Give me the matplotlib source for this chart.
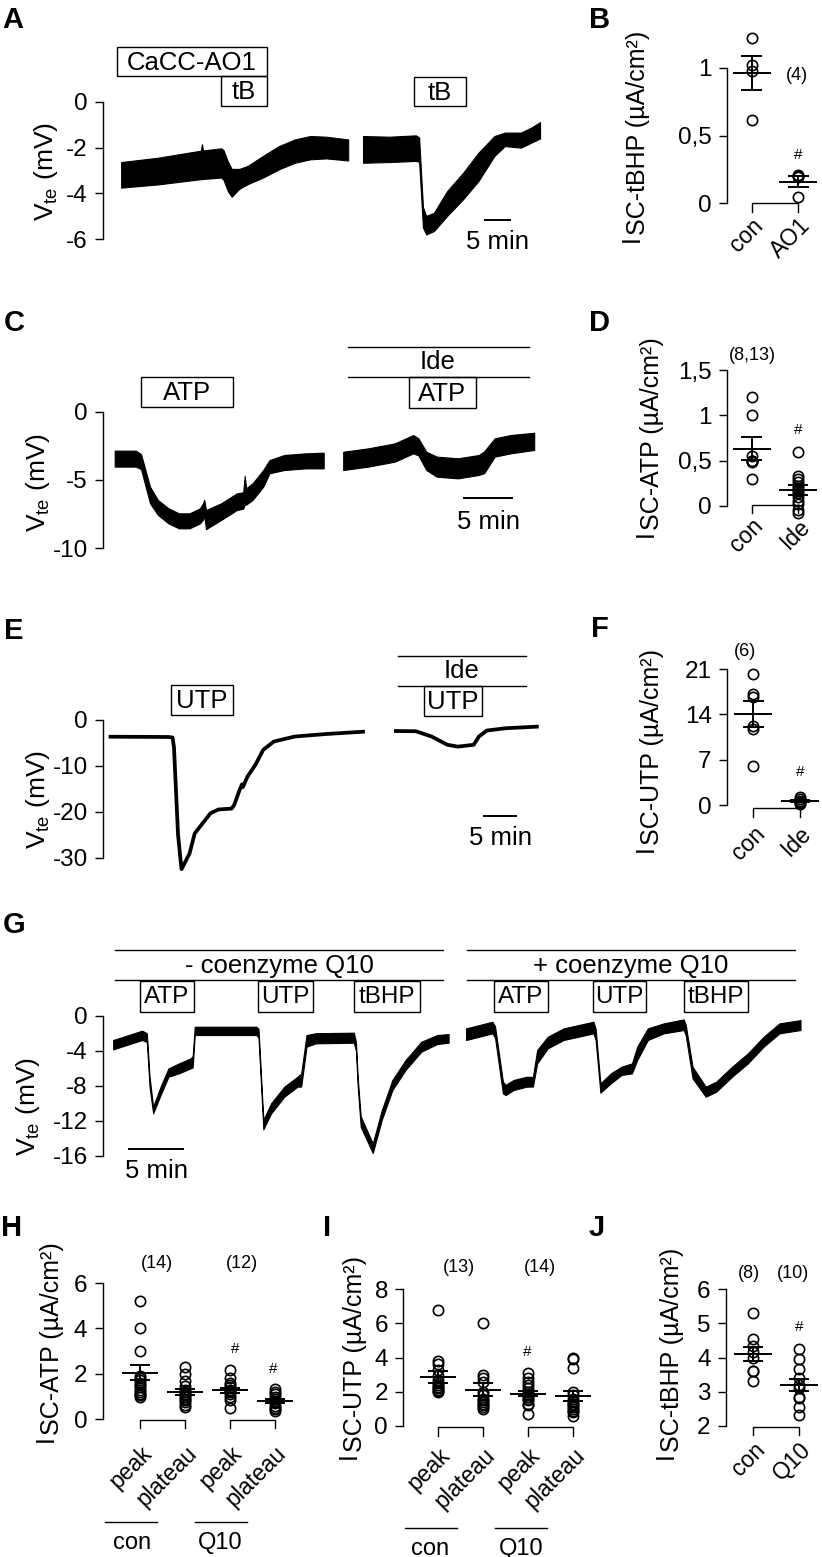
import numpy as np
import matplotlib
matplotlib.use('Agg')
import matplotlib.pyplot as plt
from matplotlib.patches import Rectangle
from matplotlib.lines import Line2D
from matplotlib.text import Annotation

plt.rcParams['font.family'] = ['Liberation Sans', 'DejaVu Sans']
plt.rcParams['mathtext.default'] = 'regular'
plt.rcParams['axes.unicode_minus'] = False

# ---- traces (time in min, upper / lower edge of the recorded band in mV) ----
a1_t = [3.3, 10.0, 17.8, 18.0, 18.2, 21.5, 21.9, 22.7, 23.4, 24.8, 26.3, 29.1, 32.0, 34.9, 37.7, 40.6, 44.6]
a1_hi = [-2.63, -2.44, -2.13, -1.85, -2.12, -2.03, -2.1, -2.6, -2.93, -2.93, -2.80, -2.36, -1.93, -1.64, -1.49, -1.52, -1.64]
a1_lo = [-3.75, -3.61, -3.38, -3.38, -3.37, -3.31, -3.4, -3.9, -4.15, -3.80, -3.60, -3.31, -2.95, -2.66, -2.51, -2.47, -2.56]
a2_t = [47.3, 52.1, 56.9, 57.5, 58.2, 58.8, 60.2, 62.6, 65.5, 68.3, 71.2, 73.1, 76.0, 77.9, 79.5]
a2_hi = [-1.49, -1.52, -1.46, -1.55, -4.6, -4.99, -4.85, -3.9, -3.1, -2.22, -1.49, -1.34, -1.34, -1.12, -0.88]
a2_lo = [-2.66, -2.63, -2.58, -2.62, -5.5, -5.80, -5.65, -4.99, -4.26, -3.46, -2.36, -1.93, -2.0, -1.78, -1.6]

c1_t = [1.17, 3.28, 3.8, 4.7, 5.49, 6.54, 7.59, 8.65, 9.7, 10.0, 10.12, 10.3, 11.8, 13.38,
        14.02, 14.17, 14.32, 14.96, 16.02, 16.65, 18.12, 20.23, 22.07]
c1_hi = [-2.85, -2.85, -3.1, -5.49, -6.46, -7.07, -7.44, -7.44, -7.07, -6.7, -6.46, -7.2, -6.71, -5.98,
         -5.9, -4.7, -5.6, -5.24, -4.27, -3.54, -3.17, -3.05, -3.0]
c1_lo = [-4.02, -4.02, -4.2, -6.7, -7.56, -8.17, -8.54, -8.54, -8.17, -7.9, -7.6, -8.6, -7.93, -7.2,
         -7.1, -6.8, -6.8, -6.46, -5.49, -4.51, -4.27, -4.15, -4.15]
c2_t = [24.02, 26.54, 29.17, 31.02, 31.54, 32.33, 33.38, 35.49, 37.59, 38.12, 39.17, 40.75, 43.12]
c2_hi = [-2.93, -2.68, -2.32, -1.71, -1.95, -2.93, -3.29, -3.41, -3.17, -2.9, -1.95, -1.71, -1.54]
c2_lo = [-4.27, -4.02, -3.66, -3.05, -3.2, -4.27, -4.76, -4.88, -4.63, -4.5, -3.29, -3.05, -2.8]

e1_t = [1.08, 9.34, 9.99, 10.2, 10.78, 11.28, 12.43, 13.18, 14.31, 15.45, 16.58, 18.48, 18.85,
        19.61, 19.97, 20.1, 20.75, 21.88, 23.02, 24.53, 27.54, 32.08, 37.36]
e1_v = [-3.64, -3.7, -3.8, -6.0, -25.0, -32.5, -29.1, -24.7, -22.5, -20.3, -19.5, -19.3, -18.5,
        -15.3, -14.0, -14.6, -12.35, -9.8, -6.5, -4.7, -3.6, -3.05, -2.55]
e2_t = [42.07, 44.94, 47.21, 49.48, 50.99, 53.26, 54.01, 55.14, 57.8, 62.33]
e2_v = [-2.4, -2.45, -3.6, -5.4, -5.8, -5.4, -3.6, -2.3, -1.8, -1.45]

g1_t = [0.9, 3.47, 3.89, 4.13, 4.45, 5.11, 5.81, 6.74, 7.77, 7.96, 8.14, 9.55, 13.61, 13.8, 14.23,
        14.92, 16.09, 17.26, 17.59, 18.06, 18.9, 22.26, 22.45, 22.6, 22.87, 23.94, 24.74, 25.68,
        26.85, 28.25, 29.65, 30.67]
g1_hi = [-2.78, -1.71, -2.0, -6.97, -10.4, -8.11, -6.02, -5.45, -4.88, -4.6, -1.26, -1.26, -1.26, -1.5, -11.9,
         -10.0, -8.11, -6.97, -6.6, -2.21, -2.0, -1.94, -3.0, -7.0, -11.5, -14.6, -10.8, -7.35,
         -5.07, -2.97, -2.21, -2.1]
g1_lo = [-3.85, -2.78, -3.0, -8.11, -11.16, -9.07, -6.97, -6.59, -6.02, -5.9, -2.21, -2.21, -2.21, -2.5, -12.99,
         -11.16, -9.26, -8.11, -8.1, -3.54, -3.16, -3.09, -4.0, -8.0, -12.7, -15.7, -11.9, -8.5,
         -6.2, -4.11, -3.24, -3.09]
g2_t = [32.22, 34.56, 34.79, 35.49, 35.73, 36.43, 37.59, 38.15, 38.53, 39.47, 40.87, 43.53, 43.72,
        44.14, 45.07, 46.01, 46.94, 47.41, 48.35, 49.75, 51.53, 51.71, 52.32, 53.49, 54.42, 55.83,
        57.23, 58.63, 60.03, 61.9]
g2_hi = [-1.45, -0.69, -1.2, -7.54, -7.9, -7.35, -6.97, -7.0, -3.92, -2.4, -1.45, -0.69, -1.5,
         -7.73, -6.59, -5.83, -5.45, -3.54, -1.45, -0.88, -0.42, -1.0, -5.83, -8.11, -7.54, -5.83,
         -4.3, -2.4, -0.88, -0.5]
g2_lo = [-2.78, -2.02, -2.5, -8.88, -9.07, -8.5, -8.11, -8.1, -5.45, -3.73, -2.78, -2.02, -2.8,
         -8.8, -7.73, -6.78, -6.59, -5.07, -2.78, -2.02, -1.64, -2.2, -7.16, -9.26, -8.69, -6.97,
         -5.45, -3.54, -2.02, -1.64]

# ---- summary panels (µA/cm²) ----
b_groups = ['con', 'AO1']
b_con = [1.22, 1.02, 0.98, 0.615]
b_ao1 = [0.207, 0.2, 0.19, 0.047]
b_mean = [0.965, 0.158]
b_sem = [0.125, 0.04]

d_groups = ['con', 'Ide']
d_con = [1.2, 1.0, 0.55, 0.5, 0.5, 0.5, 0.49, 0.3]
d_ide = [0.6, 0.33, 0.3, 0.27, 0.22, 0.2, 0.17, 0.14, 0.1, 0.06, 0.02, -0.04, -0.08]
d_mean = [0.632, 0.176]
d_sem = [0.125, 0.06]

f_groups = ['con', 'Ide']
f_con = [20.2, 17.2, 16.6, 12.2, 11.8, 6.0]
f_ide = [1.3, 0.9, 0.6, 0.5, 0.3, 0.1]
f_mean = [14.05, 0.6]
f_sem = [2.05, 0.2]

hi_groups = ['peak', 'plateau', 'peak', 'plateau']
h_vals = [[5.2, 4.0, 3.0, 1.9, 1.8, 1.75, 1.6, 1.5, 1.4, 1.3, 1.2, 1.1, 1.05, 1.0],
          [2.3, 2.0, 1.7, 1.45, 1.3, 1.2, 1.1, 1.05, 1.0, 0.9, 0.85, 0.75, 0.65, 0.55],
          [2.15, 1.8, 1.6, 1.5, 1.4, 1.3, 1.25, 1.2, 1.1, 1.0, 0.85, 0.5],
          [1.35, 1.2, 1.1, 1.0, 0.9, 0.8, 0.75, 0.7, 0.6, 0.5, 0.45, 0.35]]
h_mean = [2.05, 1.19, 1.27, 0.8]
h_sem = [0.32, 0.13, 0.12, 0.08]

i_vals = [[6.8, 3.8, 3.6, 3.3, 2.9, 2.7, 2.5, 2.4, 2.3, 2.2, 2.1, 2.05, 2.0],
          [6.0, 3.0, 2.8, 2.6, 2.0, 1.8, 1.6, 1.5, 1.4, 1.3, 1.2, 1.1, 1.0],
          [3.1, 2.8, 2.6, 2.4, 2.2, 2.0, 1.9, 1.8, 1.7, 1.6, 1.5, 1.3, 1.2, 0.7],
          [4.0, 3.9, 3.4, 2.0, 1.8, 1.6, 1.4, 1.3, 1.2, 1.1, 1.0, 0.9, 0.8, 0.6]]
i_mean = [2.89, 2.12, 1.9, 1.75]
i_sem = [0.35, 0.38, 0.16, 0.3]

j_groups = ['con', 'Q10']
j_con = [5.3, 4.55, 4.35, 4.15, 4.0, 3.6, 3.6, 3.3]
j_q10 = [4.25, 3.95, 3.65, 3.4, 3.2, 3.1, 2.85, 2.8, 2.55, 2.3]
j_mean = [4.1, 3.2]
j_sem = [0.21, 0.18]

W, H = 822, 1557
fig = plt.figure(figsize=(W / 100, H / 100), dpi=100)

TICK = 17.5
BOXTXT = 18.5


def fx(px):
    return px / W


def fy(py):
    return 1 - py / H


def panel(left, top, right, bottom):
    ax = fig.add_axes([fx(left), fy(bottom), (right - left) / W, (bottom - top) / H])
    ax.patch.set_visible(False)
    for s in ['top', 'right', 'bottom']:
        ax.spines[s].set_visible(False)
    ax.spines['left'].set_linewidth(1.0)
    ax.tick_params(axis='y', direction='out', length=6, width=1, labelsize=TICK, pad=5)
    return ax


def letter(x, y, s):
    fig.text(fx(x), fy(y), s, fontsize=21, fontweight='bold', ha='center', va='center')


def ftext(x, y, s, size=BOXTXT, **kw):
    fig.text(fx(x), fy(y), s, fontsize=size, ha='center', va='center', **kw)


def fline(x0, x1, y):
    fig.add_artist(Line2D([fx(x0), fx(x1)], [fy(y), fy(y)], transform=fig.transFigure,
                          color='black', lw=1.0))


def fbox(x0, x1, y0, y1, s, size=BOXTXT):
    fig.add_artist(Rectangle((fx(x0), fy(y1)), (x1 - x0) / W, (y1 - y0) / H,
                             transform=fig.transFigure, fill=False, ec='black', lw=1.0))
    ftext((x0 + x1) / 2, (y0 + y1) / 2 + 1, s, size=size)


def vlabel(x, y):
    fig.text(fx(x), fy(y), r'$V_{te}$ (mV)', rotation=90, fontsize=19, ha='center', va='center')


def ilabel(x, ybot, sub):
    t1 = fig.text(fx(x), fy(ybot), 'I', rotation=90, fontsize=18, ha='left', va='bottom')
    t2 = Annotation(sub + ' (µA/cm²)', xy=(0, 1), xycoords=t1, xytext=(6, 0),
                    textcoords='offset pixels', rotation=90, fontsize=18, ha='left', va='bottom')
    fig.add_artist(t2)


def trace_axes(rect, xmax, ymin, yticks):
    ax = panel(*rect)
    ax.set_xlim(0, xmax)
    ax.set_ylim(ymin, 0)
    ax.spines['left'].set_bounds(yticks[-1], yticks[0])
    ax.set_xticks([])
    ax.set_yticks(yticks)
    return ax


def band(ax, t, hi, lo):
    ax.fill_between(t, lo, hi, facecolor='black', edgecolor='black', linewidth=0.8, clip_on=False)


def scalebar(ax, t0, y, ytxt):
    ax.plot([t0, t0 + 5], [y, y], color='black', lw=1.4, solid_capstyle='butt')
    ax.text(t0 + 2.5, ytxt, '5 min', fontsize=BOXTXT, ha='center', va='center')


def dot_axes(rect, xlim, ylim, yticks, ylabels, cats, pad):
    ax = panel(*rect)
    ax.set_xlim(*xlim)
    ax.set_ylim(*ylim)
    ax.spines['left'].set_bounds(ylim[0], ylim[1])
    ax.set_yticks(yticks)
    ax.set_yticklabels(ylabels)
    ax.set_xticks(range(len(cats)))
    ax.set_xticklabels(cats, rotation=45, ha='right', va='top', rotation_mode='anchor', fontsize=16.5)
    ax.tick_params(axis='x', length=0, pad=pad)
    return ax


def dots(ax, x, vals, mean, sem, half=0.41, cap=0.22):
    ax.plot([x] * len(vals), vals, 'o', ms=7.4, mfc='none', mec='black', mew=1.2, clip_on=False)
    kw = dict(color='black', lw=1.4, clip_on=False, solid_capstyle='butt')
    ax.plot([x - half, x + half], [mean, mean], **kw)
    ax.plot([x, x], [mean - sem, mean + sem], **kw)
    ax.plot([x - cap, x + cap], [mean + sem, mean + sem], **kw)
    ax.plot([x - cap, x + cap], [mean - sem, mean - sem], **kw)


def bracket(ax, x0, x1, ytop, ybot):
    ax.plot([x0, x0, x1, x1], [ybot, ytop, ytop, ybot], color='black', lw=1.0, clip_on=False)


# ---------------- A ----------------
letter(13, 20, 'A')
axA = trace_axes((103, 102, 545, 239), 80.4, -6, [0, -2, -4, -6])
band(axA, a1_t, a1_hi, a1_lo)
band(axA, a2_t, a2_hi, a2_lo)
scalebar(axA, 69.3, -5.15, -6.12)
vlabel(46, 172)
fbox(117, 267, 47, 76, 'CaCC-AO1')
fbox(221, 267, 76, 106, 'tB')
fbox(414, 466, 77, 106, 'tB')

# ---------------- B ----------------
letter(600, 20, 'B')
axB = dot_axes((726.7, 68, 822, 203), (-0.536, 1.509), (0, 1), [0, 0.5, 1], ['0', '0,5', '1'],
               b_groups, 8)
dots(axB, 0, b_con, b_mean[0], b_sem[0])
dots(axB, 1, b_ao1, b_mean[1], b_sem[1])
bracket(axB, 0, 1, 0.0, -0.07)
ilabel(620, 242, 'SC-tBHP')
ftext(797, 75, '(4)', size=13)
ftext(798, 155, '#', size=11)

# ---------------- C ----------------
letter(14, 323, 'C')
axC = trace_axes((103, 411.7, 545, 548.3), 44.2, -10, [0, -5, -10])
band(axC, c1_t, c1_hi, c1_lo)
band(axC, c2_t, c2_hi, c2_lo)
scalebar(axC, 36.0, -6.3, -8.05)
vlabel(38, 483)
fbox(141, 233, 377, 407, 'ATP')
fline(348, 529, 346.7)
fline(348, 529, 377.3)
ftext(438, 362, 'Ide')
fbox(409, 476, 377.3, 408, 'ATP')

# ---------------- D ----------------
letter(599, 323, 'D')
axD = dot_axes((727, 370, 822, 506), (-0.53, 1.51), (0, 1.5), [0, 0.5, 1, 1.5],
               ['0', '0,5', '1', '1,5'], d_groups, 6)
dots(axD, 0, d_con, d_mean[0], d_sem[0])
dots(axD, 1, d_ide, d_mean[1], d_sem[1])
bracket(axD, 0, 1, 0.01, -0.08)
ilabel(634, 537, 'SC-ATP')
ftext(752, 355, '(8,13)', size=13)
ftext(798, 430, '#', size=11)

# ---------------- E ----------------
letter(14, 631, 'E')
axE = trace_axes((103, 720, 545, 857.7), 63.5, -30, [0, -10, -20, -30])
axE.plot(e1_t, e1_v, color='black', lw=2.7, clip_on=False, solid_joinstyle='round')
axE.plot(e2_t, e2_v, color='black', lw=2.7, clip_on=False, solid_joinstyle='round')
scalebar(axE, 54.54, -20.9, -25.7)
vlabel(38, 800)
fbox(171, 233, 685, 715, 'UTP')
fline(398, 526, 656)
fline(398, 526, 686)
ftext(462, 671, 'Ide')
fbox(424, 482, 686, 716, 'UTP')

# ---------------- F ----------------
letter(600, 629, 'F')
axF = dot_axes((727, 669, 822, 805), (-0.563, 1.471), (0, 21), [0, 7, 14, 21],
               ['0', '7', '14', '21'], f_groups, 12)
dots(axF, 0, f_con, f_mean[0], f_sem[0])
dots(axF, 1, f_ide, f_mean[1], f_sem[1])
bracket(axF, 0, 1, -0.5, -1.8)
ilabel(634, 852, 'SC-UTP')
ftext(745, 652, '(6)', size=13)
ftext(800, 772, '#', size=11)

# ---------------- G ----------------
letter(14, 925, 'G')
axG = trace_axes((103, 1015.7, 805, 1155.7), 62.3, -16, [0, -4, -8, -12, -16])
band(axG, g1_t, g1_hi, g1_lo)
band(axG, g2_t, g2_hi, g2_lo)
scalebar(axG, 2.21, -15.23, -17.8)
vlabel(28, 1107)
fline(114.7, 443, 950)
fline(114.7, 443, 980)
ftext(279, 966, '- coenzyme Q10')
fline(466.8, 794.7, 950)
fline(466.8, 794.7, 980)
ftext(630.5, 966, '+ coenzyme Q10')
for x0, x1, s in [(139.5, 193.7, 'ATP'), (257.9, 313.2, 'UTP'), (353.7, 419.5, 'tBHP'),
                  (493.7, 548.4, 'ATP'), (593.2, 646.3, 'UTP'), (684.2, 748.4, 'tBHP')]:
    fbox(x0, x1, 980.7, 1011.7, s, size=17.5)

# ---------------- H ----------------
letter(12, 1228, 'H')
axH = dot_axes((102.7, 1283, 310, 1419.3), (-0.829, 3.78), (0, 6), [0, 2, 4, 6],
               ['0', '2', '4', '6'], hi_groups, 16)
for k in range(4):
    dots(axH, k, h_vals[k], h_mean[k], h_sem[k], half=0.4)
bracket(axH, 0, 1, -0.05, -0.4)
bracket(axH, 2, 3, -0.05, -0.4)
ilabel(34, 1442, 'SC-ATP')
ftext(157, 1264, '(14)', size=13)
ftext(242, 1264, '(12)', size=13)
ftext(235, 1349, '#', size=11)
ftext(273, 1369, '#', size=11)
fline(105, 156.7, 1521.7)
fline(195, 246.7, 1521.7)
ftext(131.7, 1543, 'con', size=17)
ftext(220, 1543, 'Q10', size=17)

# ---------------- I ----------------
letter(327, 1228, 'I')
axI = dot_axes((403.3, 1289.3, 610, 1426), (-0.778, 3.82), (0, 8), [0, 2, 4, 6, 8],
               ['0', '2', '4', '6', '8'], hi_groups, 13)
for k in range(4):
    dots(axI, k, i_vals[k], i_mean[k], i_sem[k], half=0.4)
bracket(axI, 0, 1, -0.06, -0.58)
bracket(axI, 2, 3, -0.06, -0.58)
ilabel(337, 1459, 'SC-UTP')
ftext(459, 1268, '(13)', size=13)
ftext(540, 1268, '(14)', size=13)
ftext(527, 1352, '#', size=11)
fline(405, 457, 1528)
fline(494.7, 547.4, 1528)
ftext(430.5, 1549, 'con', size=17)
ftext(521, 1549, 'Q10', size=17)

# ---------------- J ----------------
letter(597, 1228, 'J')
axJ = dot_axes((726, 1289.3, 822, 1425.7), (-0.593, 1.493), (2, 6), [2, 3, 4, 5, 6],
               ['2', '3', '4', '5', '6'], j_groups, 9)
dots(axJ, 0, j_con, j_mean[0], j_sem[0])
dots(axJ, 1, j_q10, j_mean[1], j_sem[1])
bracket(axJ, 0, 1, 1.95, 1.72)
ilabel(654, 1459, 'SC-tBHP')
ftext(749, 1273, '(8)', size=13)
ftext(793, 1273, '(10)', size=13)
ftext(799, 1327, '#', size=11)

fig.savefig('out.png', dpi=100)
